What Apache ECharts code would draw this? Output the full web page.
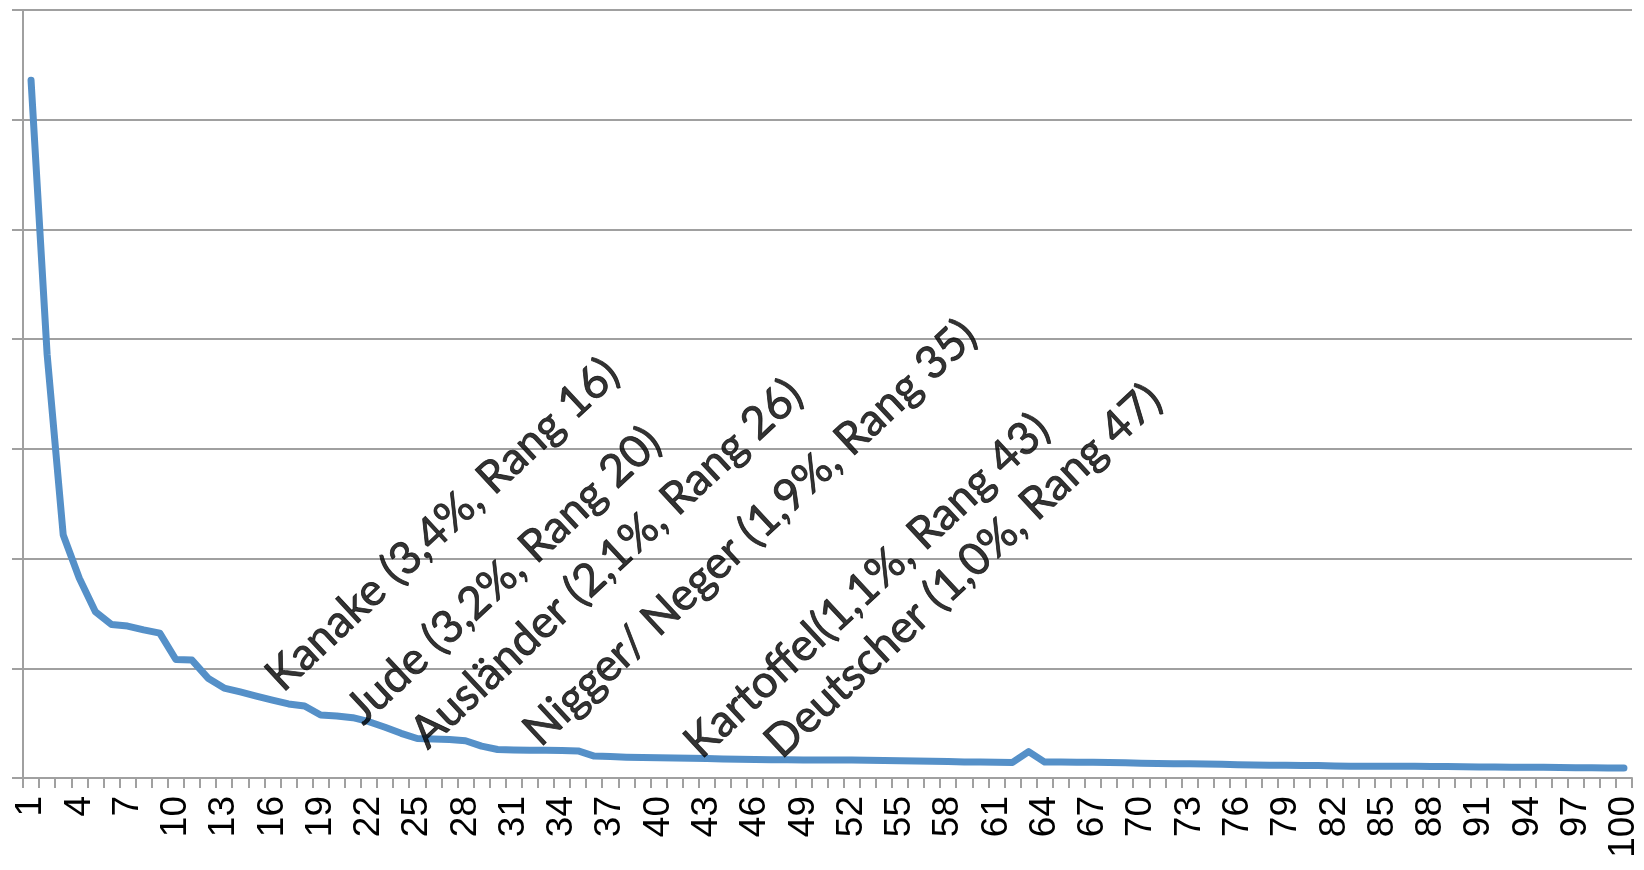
<!DOCTYPE html>
<html>
<head>
<meta charset="utf-8">
<script src="https://cdn.jsdelivr.net/npm/echarts@6/dist/echarts.min.js"></script>
<style>
  html, body { margin: 0; padding: 0; background: #fff; }
  #chart { width: 1644px; height: 870px; }
</style>
</head>
<body>
<div id="chart"></div>
<script>
// rank 1..100 on the x axis
var ranks = Array.from({ length: 100 }, function (_, i) { return String(i + 1); });

// share per rank, in gridline units (axis labels are hidden in the original)
var shares = [
  6.36, 3.86, 2.215, 1.82, 1.515, 1.40, 1.385, 1.35, 1.32, 1.08,
  1.075, 0.91, 0.82, 0.785, 0.747, 0.71, 0.675, 0.656, 0.574, 0.566,
  0.55, 0.513, 0.462, 0.407, 0.36, 0.355, 0.35, 0.34, 0.29, 0.26,
  0.255, 0.253, 0.252, 0.25, 0.247, 0.2, 0.195, 0.19, 0.186, 0.185,
  0.182, 0.18, 0.177, 0.173, 0.17, 0.168, 0.166, 0.166, 0.165, 0.165,
  0.164, 0.163, 0.162, 0.16, 0.158, 0.156, 0.153, 0.15, 0.146, 0.145,
  0.143, 0.142, 0.24, 0.145, 0.145, 0.144, 0.143, 0.142, 0.14, 0.135,
  0.133, 0.131, 0.129, 0.127, 0.125, 0.12, 0.118, 0.117, 0.116, 0.115,
  0.113, 0.11, 0.108, 0.107, 0.107, 0.106, 0.106, 0.105, 0.104, 0.103,
  0.1, 0.1, 0.099, 0.098, 0.097, 0.096, 0.094, 0.093, 0.092, 0.092
];

// annotations: text, rank where the text starts, value where it starts
var annoText = [
  'Kanake (3,4%, Rang 16)',
  'Jude (3,2%, Rang 20)',
  'Ausländer (2,1%, Rang 26)',
  'Nigger/ Neger (1,9%, Rang 35)',
  'Kartoffel(1,1%, Rang 43)',
  'Deutscher (1,0%, Rang 47)'
];
var annoAt = ['17', '22', '26', '33', '43', '48'];
var annoY = [0.72, 0.42, 0.2, 0.22, 0.11, 0.11];

var gridColor = '#a0a0a0';

var chart = echarts.init(document.getElementById('chart'));
chart.setOption({
  animation: false,
  backgroundColor: '#fff',
  grid: { left: 23, right: 12, top: 10, bottom: 92, containLabel: false },
  xAxis: {
    type: 'category',
    data: ranks,
    boundaryGap: true,
    axisLine: { show: true, lineStyle: { color: gridColor, width: 2 } },
    axisTick: { show: true, interval: 0, length: 10, lineStyle: { color: gridColor, width: 2 } },
    axisLabel: {
      interval: 2,
      rotate: 90,
      margin: 18,
      color: '#000',
      fontFamily: 'Liberation Sans',
      fontSize: 37
    },
    splitLine: { show: false }
  },
  yAxis: {
    type: 'value',
    min: 0,
    max: 7,
    interval: 1,
    axisLine: { show: true, lineStyle: { color: gridColor, width: 2 } },
    axisTick: { show: true, length: 11, lineStyle: { color: gridColor, width: 2 } },
    axisLabel: { show: false },
    splitLine: { show: true, lineStyle: { color: gridColor, width: 2 } }
  },
  series: [
    {
      type: 'line',
      data: shares,
      showSymbol: false,
      symbol: 'none',
      lineStyle: { color: '#5590c8', width: 7, cap: 'round', join: 'round' },
      z: 3
    },
    {
      type: 'scatter',
      data: annoAt.map(function (r, i) { return [r, annoY[i]]; }),
      symbolSize: 0,
      silent: true,
      z: 5,
      label: {
        show: true,
        position: 'inside',
        align: 'left',
        verticalAlign: 'bottom',
        rotate: 43,
        color: '#000',
        textBorderColor: '#000',
        textBorderWidth: 0.8,
        fontFamily: 'Lato',
        fontSize: 45,
        formatter: function (p) { return annoText[p.dataIndex]; }
      }
    }
  ]
});
</script>
</body>
</html>
